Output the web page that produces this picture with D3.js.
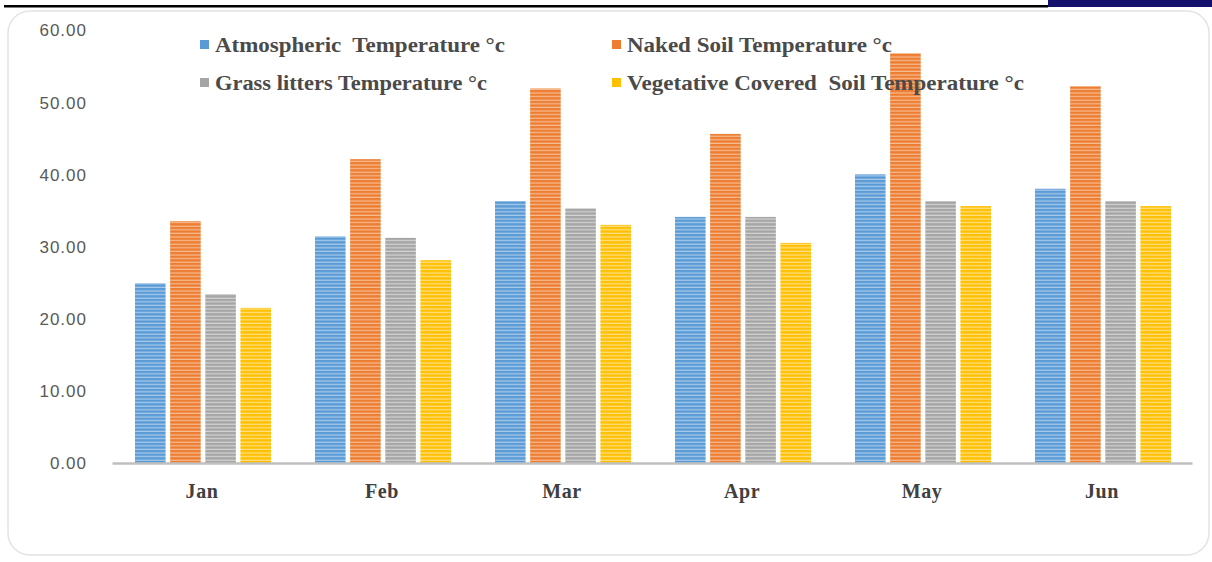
<!DOCTYPE html>
<html lang="en">
<head>
  <meta charset="utf-8">
  <title>Temperature chart</title>
  <style>
    body { margin: 0; background: #fff; }
    .ytick text { font: 17px "Liberation Sans", Arial, sans-serif; fill: #595959; letter-spacing: 1px; }
    .xtick text { font: bold 20px "Liberation Serif", "DejaVu Serif", serif; fill: #404040; letter-spacing: 0.6px; }
    .legend text { font: bold 22px "Liberation Serif", serif; fill: #4a4a4a; }
  </style>
</head>
<body>
<div id="chart"></div>
<script src="https://d3js.org/d3.v7.min.js"></script>
<script>
  const months = ["Jan", "Feb", "Mar", "Apr", "May", "Jun"];
  const seriesNames = ["Atmospheric  Temperature °c", "Naked Soil Temperature °c",
    "Grass litters Temperature °c", "Vegetative Covered  Soil Temperature °c"];
  const atmospheric = [24.9, 31.4, 36.3, 34.1, 40.0, 38.0];
  const nakedSoil = [33.5, 42.1, 51.9, 45.6, 56.8, 52.2];
  const grassLitters = [23.4, 31.2, 35.3, 34.1, 36.3, 36.3];
  const vegetative = [21.5, 28.1, 33.0, 30.5, 35.6, 35.6];
  const yTicks = [0, 10, 20, 30, 40, 50, 60];

  const seriesValues = [atmospheric, nakedSoil, grassLitters, vegetative];
  const colors = ["#5b9bd5", "#ed7d31", "#a5a5a5", "#ffc000"];
  const lightColors = ["#a9cbeb", "#f6bc95", "#d4d4d4", "#ffe08a"];

  const width = 1212, height = 562;
  const svg = d3.select("#chart").append("svg")
    .attr("width", width).attr("height", height);

  // stripe patterns
  const defs = svg.append("defs");
  colors.forEach((c, i) => {
    const p = defs.append("pattern")
      .attr("id", "stripe" + i)
      .attr("patternUnits", "userSpaceOnUse")
      .attr("width", 8).attr("height", 3.6);
    p.append("rect").attr("width", 8).attr("height", 3.6).attr("fill", lightColors[i]);
    p.append("rect").attr("width", 8).attr("height", 2.4).attr("fill", c);
  });

  // page decorations
  svg.append("rect").attr("x", 4).attr("y", 5).attr("width", 1044).attr("height", 2.5).attr("fill", "#000");
  svg.append("rect").attr("x", 1048).attr("y", 0).attr("width", 164).attr("height", 7).attr("fill", "#14106e");
  svg.append("rect").attr("x", 8).attr("y", 11).attr("width", 1201).attr("height", 544)
    .attr("rx", 22).attr("fill", "#fff").attr("stroke", "#e3e3e3").attr("stroke-width", 1.5);

  const x0 = d3.scaleBand().domain(months).range([112, 1192]);
  const x1 = d3.scaleBand().domain(d3.range(4)).range([23, 159]).paddingInner(0.13);
  const y = d3.scaleLinear().domain([0, 60]).range([463, 30]);

  // y axis labels
  const yAxis = svg.append("g").attr("class", "ytick")
    .attr("transform", "translate(90,0)")
    .call(d3.axisLeft(y).tickValues(yTicks).tickSize(0).tickFormat(d3.format(".2f")));
  yAxis.select(".domain").remove();
  yAxis.selectAll("text").attr("dy", "0.35em");

  // bars
  const groups = svg.append("g").selectAll("g")
    .data(months).join("g")
    .attr("transform", d => `translate(${x0(d)},0)`);
  groups.selectAll("rect")
    .data((m, mi) => seriesValues.map((s, si) => ({ si, v: s[mi] })))
    .join("rect")
    .attr("x", d => x1(d.si))
    .attr("y", d => y(d.v))
    .attr("width", x1.bandwidth())
    .attr("height", d => y(0) - y(d.v))
    .attr("fill", d => `url(#stripe${d.si})`);

  // x axis
  const xAxis = svg.append("g").attr("class", "xtick")
    .attr("transform", `translate(0,${y(0)})`)
    .call(d3.axisBottom(x0).tickSize(0).tickPadding(21));
  xAxis.select(".domain").attr("stroke", "#bfbfbf").attr("stroke-width", 2.5);

  // legend
  const legendPos = [[205, 44], [617, 44], [205, 82], [617, 82]];
  const legendLen = [290, 265, 272, 397];
  const legend = svg.append("g").attr("class", "legend");
  seriesNames.forEach((name, i) => {
    const [lx, ly] = legendPos[i];
    legend.append("rect").attr("x", lx - 5).attr("y", ly - 4).attr("width", 9).attr("height", 9).attr("fill", colors[i]);
    legend.append("text").attr("x", lx + 10).attr("y", ly + 8)
      .attr("textLength", legendLen[i]).attr("lengthAdjust", "spacingAndGlyphs")
      .style("white-space", "pre").text(name);
  });
</script>
</body>
</html>
